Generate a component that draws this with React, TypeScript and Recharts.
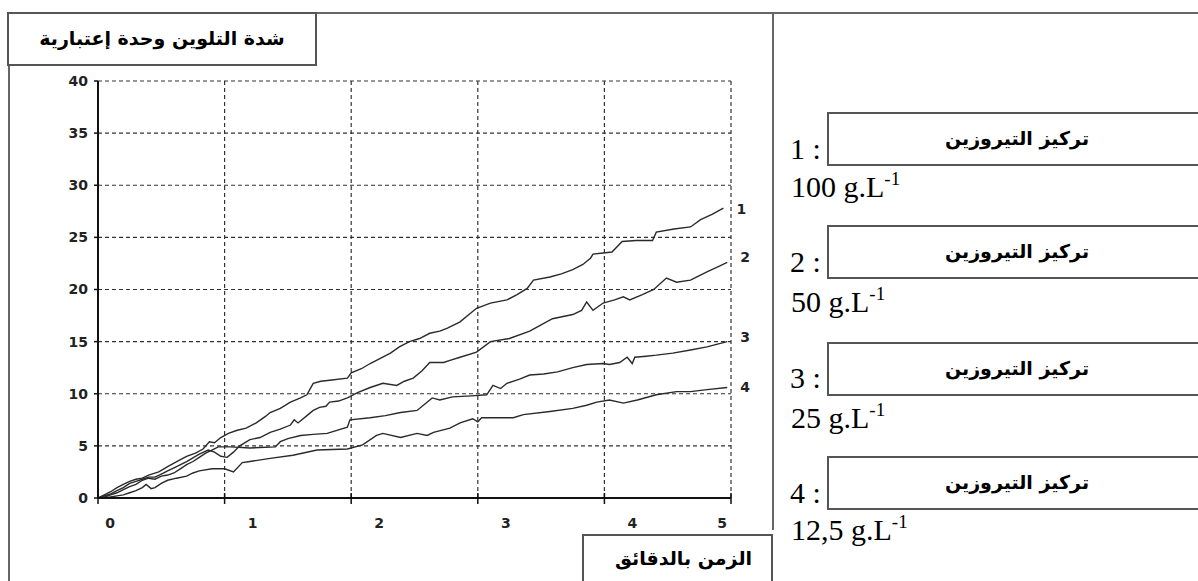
import React from 'react'
import { LineChart, Line, XAxis, YAxis, CartesianGrid } from 'recharts'

// time (min) / colour intensity readings for each tyrosine concentration
const t1 = [0, 0.05, 0.1, 0.15, 0.2, 0.25, 0.3, 0.35, 0.4, 0.48, 0.55, 0.64, 0.7, 0.77, 0.83, 0.88, 0.92, 0.97, 1.03, 1.1, 1.17, 1.25, 1.32, 1.36, 1.44, 1.52, 1.6, 1.65, 1.7, 1.76, 1.83, 1.97, 2.0, 2.08, 2.15, 2.23, 2.31, 2.38, 2.46, 2.54, 2.62, 2.7, 2.76, 2.86, 2.93, 2.99, 3.1, 3.23, 3.31, 3.39, 3.44, 3.57, 3.66, 3.75, 3.83, 3.89, 3.91, 3.99, 4.06, 4.14, 4.25, 4.38, 4.41, 4.55, 4.68, 4.76, 4.85, 4.94]
const v1 = [0, 0.3, 0.6, 1.0, 1.3, 1.6, 1.8, 1.9, 2.2, 2.5, 3.0, 3.6, 4.0, 4.3, 4.7, 5.4, 5.3, 5.8, 6.2, 6.5, 6.7, 7.2, 7.8, 8.2, 8.6, 9.2, 9.6, 9.9, 11.0, 11.2, 11.3, 11.5, 12.0, 12.4, 12.9, 13.4, 13.9, 14.5, 15.0, 15.3, 15.8, 16.0, 16.3, 16.9, 17.6, 18.2, 18.7, 19.0, 19.5, 20.1, 20.9, 21.2, 21.5, 21.9, 22.4, 23.0, 23.4, 23.5, 23.6, 24.6, 24.7, 24.7, 25.5, 25.8, 26.0, 26.7, 27.2, 27.8]

const t2 = [0, 0.05, 0.1, 0.15, 0.2, 0.25, 0.3, 0.35, 0.4, 0.45, 0.5, 0.55, 0.6, 0.7, 0.8, 0.87, 0.92, 0.97, 1.02, 1.07, 1.12, 1.2, 1.28, 1.36, 1.44, 1.52, 1.55, 1.58, 1.66, 1.7, 1.75, 1.8, 1.83, 1.9, 1.97, 2.05, 2.15, 2.25, 2.36, 2.42, 2.49, 2.56, 2.62, 2.73, 2.78, 2.86, 2.99, 3.1, 3.25, 3.41, 3.5, 3.59, 3.75, 3.82, 3.86, 3.91, 3.99, 4.08, 4.15, 4.2, 4.3, 4.39, 4.49, 4.57, 4.68, 4.81, 4.9, 4.97]
const v2 = [0, 0.2, 0.4, 0.7, 1.0, 1.4, 1.6, 1.8, 2.0, 2.0, 2.3, 2.6, 2.9, 3.5, 4.2, 4.6, 4.4, 4.0, 3.9, 4.4, 5.0, 5.6, 5.8, 6.3, 6.6, 7.0, 7.5, 7.2, 8.0, 8.4, 8.7, 8.8, 9.2, 9.3, 9.6, 10.1, 10.6, 11.0, 10.8, 11.2, 11.5, 12.2, 13.0, 13.0, 13.2, 13.5, 14.0, 15.0, 15.3, 16.0, 16.6, 17.2, 17.6, 18.0, 18.8, 18.0, 18.7, 19.0, 19.3, 19.0, 19.5, 20.0, 21.1, 20.7, 20.9, 21.7, 22.2, 22.6]

const t3 = [0, 0.05, 0.1, 0.15, 0.2, 0.25, 0.3, 0.35, 0.4, 0.45, 0.5, 0.55, 0.6, 0.65, 0.7, 0.75, 0.8, 0.85, 0.9, 0.95, 1.05, 1.2, 1.4, 1.44, 1.5, 1.6, 1.7, 1.81, 1.97, 1.99, 2.15, 2.27, 2.39, 2.52, 2.58, 2.64, 2.7, 2.8, 2.95, 3.07, 3.12, 3.18, 3.23, 3.33, 3.41, 3.52, 3.63, 3.75, 3.86, 3.99, 4.04, 4.12, 4.18, 4.22, 4.24, 4.33, 4.41, 4.54, 4.68, 4.81, 4.97]
const v3 = [0, 0.1, 0.3, 0.5, 0.8, 1.1, 1.3, 1.7, 1.9, 1.8, 2.1, 2.2, 2.4, 2.8, 3.2, 3.5, 3.9, 4.3, 4.6, 4.9, 4.9, 4.8, 4.9, 5.4, 5.7, 6.0, 6.1, 6.2, 6.8, 7.5, 7.7, 7.9, 8.2, 8.4, 9.0, 9.6, 9.4, 9.7, 9.8, 9.9, 10.8, 10.5, 11.0, 11.4, 11.8, 11.9, 12.1, 12.5, 12.8, 12.9, 12.8, 13.0, 13.5, 12.9, 13.5, 13.6, 13.7, 13.9, 14.2, 14.5, 15.0]

const t4 = [0, 0.05, 0.1, 0.15, 0.2, 0.25, 0.3, 0.35, 0.38, 0.42, 0.45, 0.5, 0.55, 0.62, 0.7, 0.75, 0.8, 0.9, 1.0, 1.07, 1.14, 1.2, 1.36, 1.54, 1.73, 1.97, 2.09, 2.2, 2.25, 2.39, 2.52, 2.6, 2.65, 2.78, 2.86, 2.96, 3.0, 3.03, 3.28, 3.36, 3.57, 3.75, 3.86, 3.94, 4.04, 4.15, 4.26, 4.41, 4.57, 4.68, 4.81, 4.97]
const v4 = [0, 0.0, 0.1, 0.2, 0.3, 0.5, 0.7, 1.0, 1.3, 0.9, 1.0, 1.4, 1.7, 1.9, 2.1, 2.4, 2.6, 2.8, 2.8, 2.5, 3.4, 3.5, 3.8, 4.1, 4.6, 4.7, 5.1, 6.0, 6.2, 5.8, 6.2, 6.0, 6.3, 6.7, 7.2, 7.6, 7.3, 7.7, 7.7, 8.0, 8.3, 8.6, 8.9, 9.2, 9.4, 9.1, 9.4, 9.9, 10.2, 10.2, 10.4, 10.6]

const xTicks = [0, 1, 2, 3, 4, 5]
const yTicks = [0, 5, 10, 15, 20, 25, 30, 35, 40]
const curveNames = ['1', '2', '3', '4']
const concentrations = ['100', '50', '25', '12,5']

const yTitle = 'شدة التلوين وحدة إعتبارية'
const xTitle = 'الزمن  بالدقائق'
const legendText = 'تركيز التيروزين'

const toPoints = (t: number[], v: number[]) => t.map((x, i) => ({ t: x, v: v[i] }))
const series = [toPoints(t1, v1), toPoints(t2, v2), toPoints(t3, v3), toPoints(t4, v4)]

const X_LABEL_SHIFT = [12, 28, 28, 28, 28, -9]
const LABEL_DY = [2, -4, -4, 1]
const BOX_TOPS = [112, 225, 342, 456]
const NUM_TOPS = [134, 247, 363, 478]
const CONC_TOPS = [172, 287, 403, 515]

const arabic = "'DejaVu Sans', sans-serif"
const tickFont = { fontFamily: "'DejaVu Sans', sans-serif", fontWeight: 700, fontSize: 14, fill: '#222' }

const XTick = (props: any) => {
  const { x, y, payload, index } = props
  return (
    <g>
      <line x1={x} x2={x} y1={y - 5} y2={y + 6} stroke="#111" strokeWidth={1.5} />
      <text x={x + X_LABEL_SHIFT[index]} y={y + 30} textAnchor="middle" {...tickFont}>
        {payload.value}
      </text>
    </g>
  )
}

const endLabel = (k: number) => (props: any) => {
  const { x, y, index } = props
  if (index !== series[k].length - 1) return null
  return (
    <text x={x + 18} y={y + 4 + LABEL_DY[k]} textAnchor="middle" {...tickFont}>
      {curveNames[k]}
    </text>
  )
}

const abs = (s: React.CSSProperties): React.CSSProperties => ({ position: 'absolute', boxSizing: 'border-box', ...s })

export default function App() {
  return (
    <div style={abs({ left: 0, top: 0, width: 1198, height: 581, background: '#fff', overflow: 'hidden' })}>
      <div style={abs({ left: 0, top: 0 })}>
        <LineChart width={800} height={560} margin={{ top: 81, right: 69, bottom: 32, left: 38 }}>
          <CartesianGrid stroke="#333" strokeDasharray="4 3" strokeWidth={1.2} />
          <XAxis
            dataKey="t"
            type="number"
            domain={[0, 5]}
            ticks={xTicks}
            height={30}
            axisLine={{ stroke: '#111', strokeWidth: 2 }}
            tickLine={false}
            tickSize={0}
            tickMargin={0}
            tick={<XTick />}
            allowDataOverflow
          />
          <YAxis
            type="number"
            domain={[0, 40]}
            ticks={yTicks}
            width={60}
            axisLine={{ stroke: '#111', strokeWidth: 2 }}
            tickLine={{ stroke: '#111', strokeWidth: 1.5 }}
            tickSize={4}
            tickMargin={6}
            tick={tickFont}
            interval={0}
          />
          {series.map((d, k) => (
            <Line
              key={k}
              data={d}
              dataKey="v"
              type="linear"
              stroke="#2a2a2a"
              strokeWidth={1.4}
              dot={false}
              label={endLabel(k)}
              isAnimationActive={false}
            />
          ))}
        </LineChart>
      </div>

      {/* frame */}
      <div style={abs({ left: 316, top: 12, width: 882, height: 2, background: '#666' })} />
      <div style={abs({ left: 8, top: 60, width: 2, height: 521, background: '#666' })} />
      <div style={abs({ left: 772, top: 13, width: 2, height: 517, background: '#666' })} />

      <div
        style={abs({
          left: 7, top: 12, width: 310, height: 54, border: '2px solid #555', background: '#fff',
          textAlign: 'center', lineHeight: '48px', fontFamily: arabic, fontWeight: 700, fontSize: 19, direction: 'rtl',
        })}
      >
        {yTitle}
      </div>

      <div
        style={abs({
          left: 582, top: 534, width: 191, height: 60, border: '2px solid #555', background: '#fff',
          paddingLeft: 12, textAlign: 'center', lineHeight: '44px', fontFamily: arabic, fontWeight: 700, fontSize: 19, direction: 'rtl',
        })}
      >
        {xTitle}
      </div>

      {concentrations.map((c, i) => (
        <React.Fragment key={i}>
          <div style={abs({ left: 827, top: BOX_TOPS[i], width: 400, height: 54, border: '2px solid #555' })}>
            <div
              style={abs({
                left: 88, top: 0, width: 200, height: 50, textAlign: 'center', lineHeight: '48px',
                fontFamily: arabic, fontWeight: 700, fontSize: 19, direction: 'rtl',
              })}
            >
              {legendText}
            </div>
          </div>
          <div style={abs({ left: 790, top: NUM_TOPS[i], fontFamily: "'Liberation Serif', serif", fontSize: 30, lineHeight: '30px', whiteSpace: 'nowrap' })}>
            {curveNames[i]} :
          </div>
          <div style={abs({ left: 791, top: CONC_TOPS[i], fontFamily: "'Liberation Serif', serif", fontSize: 30, lineHeight: '30px', whiteSpace: 'nowrap' })}>
            {c} g.L<span style={{ fontSize: 19, position: 'relative', top: -12 }}>-1</span>
          </div>
        </React.Fragment>
      ))}
    </div>
  )
}
